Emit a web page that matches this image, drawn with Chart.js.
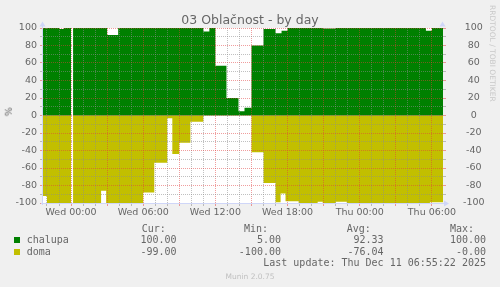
<!DOCTYPE html>
<html><head><meta charset="utf-8">
<script src="https://cdn.jsdelivr.net/npm/chart.js@4/dist/chart.umd.min.js"></script>
<style>
html,body{margin:0;padding:0;background:#F0F0F0;}
#wrap{position:relative;width:500px;height:287px;overflow:hidden;background:#F0F0F0;font-family:'DejaVu Sans';color:#666666;}
#c{position:absolute;left:0;top:0;}
.t{position:absolute;white-space:pre;line-height:1;}
.mono{font-family:'DejaVu Sans Mono';font-size:10px;}
.r{text-align:right;}
.sq{position:absolute;width:6px;height:6px;}
</style></head><body>
<div id="wrap">
<canvas id="c" width="500" height="287"></canvas>
<div class="t" style="left:0;width:500px;text-align:center;top:13.7px;font-size:12.5px;">03 Oblačnost - by day</div>
<div class="t" style="left:488px;top:5px;font-size:7.5px;color:#C8C8C8;writing-mode:vertical-rl;">RRDTOOL / TOBI OETIKER</div>
<div class="t" style="left:4px;top:107px;font-size:9.5px;transform:rotate(-90deg);transform-origin:center;">%</div>
<div id="legend"></div>
<div class="t" style="left:0;width:500px;text-align:center;top:273px;font-size:7.5px;color:#C0C0C0;">Munin 2.0.75</div>
</div>
<script>
// ---- data (hours relative to Wed 00:00) ----
const seriesNames = ['chalupa', 'doma'];
const seriesColors = ['#008000', '#C2BF00'];
const chalupaTimes  = [-2.33, -1.0, -0.58, 0.0, 0.17, 3.0, 3.92, 11.0, 11.5, 12.0, 12.92, 13.92, 14.42, 15.0, 16.0, 17.0, 17.5, 18.0, 20.92, 22.0, 29.5, 30.0];
const chalupaValues = [100, 99, 100, null, 100, 92, 100, 96, 100, 57, 20, 5, 9, 80, 99, 94, 97, 100, 99.5, 100, 97, 100];
const domaTimes  = [-2.33, -2.0, 0.0, 0.17, 2.5, 2.92, 6.0, 6.92, 8.0, 8.42, 9.0, 9.92, 11.0, 15.0, 16.0, 17.0, 17.42, 17.83, 18.92, 20.5, 20.92, 22.0, 22.92, 29.83];
const domaValues = [-92, -100, null, -100, -86, -100, -88, -54, -3, -44, -31, -7, 0, -42, -77, -99, -89, -98, -100, -98.5, -100, -98.5, -100, -99];
const endTime = 30.92;
const xTickHours  = [0, 6, 12, 18, 24, 30];
const xTickLabels = ['Wed 00:00', 'Wed 06:00', 'Wed 12:00', 'Wed 18:00', 'Thu 00:00', 'Thu 06:00'];
const yTickValues = [-100, -80, -60, -40, -20, 0, 20, 40, 60, 80, 100];
const legendHeaders = ['Cur:', 'Min:', 'Avg:', 'Max:'];
const chalupaStats = ['100.00', '5.00', '92.33', '100.00'];
const domaStats    = ['-99.00', '-100.00', '-76.04', '-0.00'];
const lastUpdate = 'Last update: Thu Dec 11 06:55:22 2025';

// ---- legend (HTML text) ----
const lg = document.getElementById('legend');
function addText(txt, style, cls) {
  const d = document.createElement('div');
  d.className = 't mono ' + (cls || '');
  d.textContent = txt;
  d.setAttribute('style', style);
  lg.appendChild(d);
}
const headerLeft = [141.7, 244, 346.7, 450];
legendHeaders.forEach((h, i) => addText(h, `left:${headerLeft[i]}px;top:223.5px;`));
const colRight = [176.5, 281, 383.5, 486];
[chalupaStats, domaStats].forEach((row, r) => {
  const top = 235 + r * 11.5;
  const sq = document.createElement('div');
  sq.className = 'sq';
  sq.style.left = '14px'; sq.style.top = (237.3 + r * 11.7) + 'px';
  sq.style.background = seriesColors[r];
  lg.appendChild(sq);
  addText(seriesNames[r], `left:26.7px;top:${top}px;`);
  row.forEach((v, i) => addText(v, `right:${500 - colRight[i]}px;top:${top}px;`, 'r'));
});
addText(lastUpdate, 'right:14px;top:258px;', 'r');

// ---- chart ----
function steps(times, values, end) {
  const pts = [];
  for (let i = 0; i < times.length; i++) {
    const t0 = times[i], t1 = i + 1 < times.length ? times[i + 1] : end;
    if (values[i] === null) { pts.push({x: t0, y: null}); continue; }
    pts.push({x: t0, y: values[i]}, {x: t1, y: values[i]});
  }
  return pts;
}
const GRID = 'rgba(140,140,140,0.55)';
const MGRID = 'rgba(225,60,60,0.5)';
const AXIS = '#CFD6F8';
const FONT = {family: 'DejaVu Sans', size: 9.5};

const deco = {
  id: 'deco',
  beforeDraw(chart) {
    const a = chart.chartArea, ctx = chart.ctx;
    ctx.save();
    ctx.fillStyle = '#FFFFFF';
    ctx.fillRect(a.left, a.top, a.right - a.left, a.bottom - a.top);
    ctx.restore();
  },
  afterDraw(chart) {
    const a = chart.chartArea, ctx = chart.ctx;
    ctx.save();
    ctx.fillStyle = AXIS;
    ctx.strokeStyle = AXIS;
    ctx.lineWidth = 1;
    // axis lines
    ctx.beginPath();
    ctx.moveTo(a.left - 0.5, a.top - 2); ctx.lineTo(a.left - 0.5, a.bottom + 2);
    ctx.moveTo(a.left - 2, a.bottom + 0.5); ctx.lineTo(a.right + 3, a.bottom + 0.5);
    ctx.stroke();
    // x arrow
    ctx.beginPath(); ctx.moveTo(a.right + 6, a.bottom + 0.5); ctx.lineTo(a.right + 1, a.bottom - 2.5); ctx.lineTo(a.right + 1, a.bottom + 3.5); ctx.closePath(); ctx.fill();
    // y arrows
    [a.left - 0.5, a.right - 0.5].forEach(x => {
      ctx.beginPath(); ctx.moveTo(x, a.top - 6.5); ctx.lineTo(x - 3, a.top - 1.5); ctx.lineTo(x + 3, a.top - 1.5); ctx.closePath(); ctx.fill();
    });
    ctx.restore();
  }
};

const gridColorY = c => (c.tick && c.tick.value % 20 === 0) ? MGRID : GRID;
const gridColorX = c => (c.tick && c.tick.value % 3 === 0) ? MGRID : GRID;
const yTickCb = v => yTickValues.includes(v) ? String(v) : '';

new Chart(document.getElementById('c'), {
  type: 'line',
  data: {
    datasets: [
      {label: seriesNames[0], data: steps(chalupaTimes, chalupaValues, endTime), backgroundColor: seriesColors[0], borderColor: 'rgba(0,0,0,0)', borderWidth: 0, fill: 'origin', pointRadius: 0, tension: 0, spanGaps: false},
      {label: seriesNames[1], data: steps(domaTimes, domaValues, endTime), backgroundColor: seriesColors[1], borderColor: 'rgba(0,0,0,0)', borderWidth: 0, fill: 'origin', pointRadius: 0, tension: 0, spanGaps: false}
    ]
  },
  options: {
    responsive: false,
    animation: false,
    devicePixelRatio: 1,
    layout: {padding: {top: 28, left: 0, right: 0, bottom: 0}},
    plugins: {legend: {display: false}, tooltip: {enabled: false}, title: {display: false}},
    scales: {
      x: {
        type: 'linear', min: -2.33, max: endTime,
        afterFit: s => { s.height = 84; },
        afterBuildTicks: s => { const t = []; for (let h = -2; h <= 30; h++) t.push({value: h}); s.ticks = t; },
        grid: {z: 1, color: gridColorX, tickColor: gridColorX, tickLength: 3, lineWidth: 1},
        border: {display: false, dash: [1, 1], z: 1},
        ticks: {autoSkip: false, maxRotation: 0, minRotation: 0, padding: 1, color: '#666666', font: FONT,
          callback: v => { const i = xTickHours.indexOf(v); return i >= 0 ? xTickLabels[i] : ''; }}
      },
      y: {
        type: 'linear', position: 'left', min: -100, max: 100,
        afterFit: s => { s.width = 43; },
        grid: {z: 1, color: gridColorY, tickColor: gridColorY, tickLength: 3},
        border: {display: false, dash: [1, 1], z: 1},
        ticks: {stepSize: 10, autoSkip: false, padding: 3, color: '#666666', font: FONT, callback: yTickCb}
      },
      y2: {
        type: 'linear', position: 'right', min: -100, max: 100,
        afterFit: s => { s.width = 57; },
        grid: {z: 1, drawOnChartArea: false, color: gridColorY, tickColor: gridColorY, tickLength: 3},
        border: {display: false},
        ticks: {stepSize: 10, autoSkip: false, padding: 17, crossAlign: 'center', color: '#666666', font: FONT, callback: yTickCb}
      }
    }
  },
  plugins: [deco]
});
</script>
</body></html>
